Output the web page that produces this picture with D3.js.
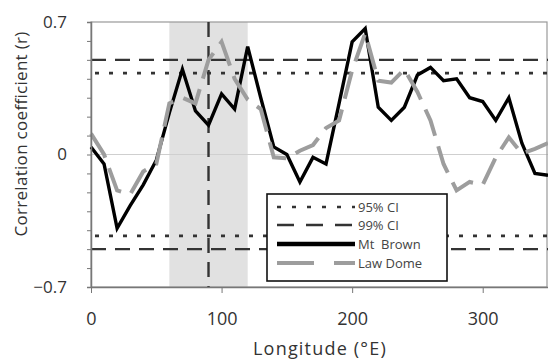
<!DOCTYPE html>
<html>
<head>
<meta charset="utf-8">
<script src="https://cdn.jsdelivr.net/npm/d3@7"></script>
<style>
  body { margin: 0; background: #fff; }
  svg { display: block; font-family: "Open Sans", sans-serif; }
  .axis path, .axis line { stroke: #777; }
  .axis text { fill: #333; font-size: 17px; font-family: "Open Sans", sans-serif; }
</style>
</head>
<body>
<script>
// longitude (deg E), every 10 degrees
var longitudes = [0, 10, 20, 30, 40, 50, 60, 70, 80, 90, 100, 110, 120, 130, 140, 150, 160, 170,
  180, 190, 200, 210, 220, 230, 240, 250, 260, 270, 280, 290, 300, 310, 320, 330, 340, 350];

var mtBrown = [0.04, -0.05, -0.39, -0.27, -0.16, -0.03, 0.22, 0.45, 0.23, 0.155, 0.32, 0.24,
  0.57, 0.30, 0.04, 0.00, -0.145, -0.015, -0.05, 0.27, 0.595, 0.665, 0.25, 0.18,
  0.25, 0.42, 0.46, 0.39, 0.40, 0.30, 0.28, 0.18, 0.30, 0.06, -0.10, -0.11];

var lawDome = [0.11, 0.00, -0.19, -0.21, -0.09, -0.05, 0.27, 0.30, 0.27, 0.50, 0.595, 0.40,
  0.29, 0.24, -0.015, -0.02, 0.02, 0.05, 0.14, 0.18, 0.445, 0.64, 0.39, 0.38,
  0.45, 0.33, 0.18, -0.05, -0.19, -0.145, -0.16, -0.015, 0.09, 0.005, 0.03, 0.06];

var ci95 = 0.43;
var ci99 = 0.50;
var band = [60, 120];
var marker = 90;
var xTicks = [0, 100, 200, 300];
var yLabels = [-0.7, 0, 0.7];

var width = 548, height = 361;
var margin = { top: 22, left: 91, right: 0, bottom: 74 };

var x = d3.scaleLinear()
  .domain([0, 350])
  .range([margin.left, width - margin.right]);

var y = d3.scaleLinear()
  .domain([-0.7, 0.7])
  .range([height - margin.bottom, margin.top]);

var svg = d3.select("body").append("svg")
  .attr("width", width)
  .attr("height", height);

// shaded band
svg.append("rect")
  .attr("x", x(band[0]))
  .attr("y", y(0.7))
  .attr("width", x(band[1]) - x(band[0]))
  .attr("height", y(-0.7) - y(0.7))
  .style("fill", "#e1e1e1");

// zero line
svg.append("line")
  .attr("x1", x(0)).attr("x2", x(350))
  .attr("y1", y(0)).attr("y2", y(0))
  .style("stroke", "#cfcfcf")
  .style("stroke-width", 1);

// frame
svg.append("rect")
  .attr("x", x(0))
  .attr("y", y(0.7))
  .attr("width", x(350) - x(0) - 1)
  .attr("height", y(-0.7) - y(0.7))
  .style("fill", "none")
  .style("stroke", "#999")
  .style("stroke-width", 1.2);

// confidence lines
[ci95, -ci95].forEach(function(v) {
  svg.append("line")
    .attr("x1", x(0) + 4).attr("x2", x(350))
    .attr("y1", y(v)).attr("y2", y(v))
    .style("stroke", "#333")
    .style("stroke-width", 2.6)
    .style("stroke-dasharray", "4,10");
});
[ci99, -ci99].forEach(function(v) {
  svg.append("line")
    .attr("x1", x(0)).attr("x2", x(350))
    .attr("y1", y(v)).attr("y2", y(v))
    .style("stroke", "#333")
    .style("stroke-width", 2.4)
    .style("stroke-dasharray", "15,9");
});

// 90E marker
svg.append("line")
  .attr("x1", x(marker)).attr("x2", x(marker))
  .attr("y1", y(0.7)).attr("y2", y(-0.7))
  .style("stroke", "#333")
  .style("stroke-width", 2.4)
  .style("stroke-dasharray", "15,9");

var line = d3.line()
  .x(function(d, i) { return x(longitudes[i]); })
  .y(function(d) { return y(d); });

svg.append("path")
  .attr("d", line(mtBrown))
  .style("fill", "none")
  .style("stroke", "#000")
  .style("stroke-width", 3.4)
  .style("stroke-linejoin", "miter");

svg.append("path")
  .attr("d", line(lawDome))
  .style("fill", "none")
  .style("stroke", "#9d9d9d")
  .style("stroke-width", 4)
  .style("stroke-dasharray", "28,11");

// axes
var yAxis = d3.axisLeft(y)
  .tickValues(d3.range(-7, 8).map(function(v) { return v / 10; }))
  .tickSize(4)
  .tickPadding(20)
  .tickFormat(function(t) {
    var r = Math.round(t * 10) / 10;
    return yLabels.indexOf(r) >= 0 ? (r === 0 ? "0" : d3.format(".1f")(r)) : "";
  });

svg.append("g")
  .attr("class", "y axis")
  .attr("transform", "translate(" + x(0) + ",0)")
  .call(yAxis)
  .call(function(g) { g.select(".domain").style("stroke-width", 1.5); });

var xAxis = d3.axisBottom(x)
  .tickValues(xTicks)
  .tickSize(6)
  .tickPadding(19)
  .tickSizeOuter(0)
  .tickFormat(d3.format("d"));

svg.append("g")
  .attr("class", "x axis")
  .attr("transform", "translate(0," + y(-0.7) + ")")
  .call(xAxis)
  .call(function(g) {
    g.select(".domain").style("stroke-width", 1.5);
    g.selectAll(".tick text").style("font-size", "18px");
  });

// titles
svg.append("text")
  .attr("transform", "translate(27,134) rotate(-90)")
  .style("text-anchor", "middle")
  .style("font-size", "17px")
  .style("letter-spacing", "0.3px")
  .style("fill", "#333")
  .text("Correlation coefficient (r)");

svg.append("text")
  .attr("x", 320)
  .attr("y", 355)
  .style("text-anchor", "middle")
  .style("font-size", "18px")
  .style("letter-spacing", "1.2px")
  .style("fill", "#333")
  .text("Longitude (°E)");

// legend
var legend = svg.append("g").attr("transform", "translate(267,194)");
legend.append("rect")
  .attr("width", 180)
  .attr("height", 87)
  .style("fill", "#fff")
  .style("stroke", "#111")
  .style("stroke-width", 1.6);

var entries = [
  { label: "95% CI", y: 13, color: "#333", w: 2.6, dash: "4,11" },
  { label: "99% CI", y: 31, color: "#333", w: 2.4, dash: "17,12" },
  { label: "Mt  Brown", y: 50, color: "#000", w: 4.5, dash: null },
  { label: "Law Dome", y: 69, color: "#9d9d9d", w: 4, dash: "37,20" }
];

entries.forEach(function(e) {
  legend.append("line")
    .attr("x1", 10).attr("x2", 88)
    .attr("y1", e.y).attr("y2", e.y)
    .style("stroke", e.color)
    .style("stroke-width", e.w)
    .style("stroke-dasharray", e.dash);
  legend.append("text")
    .attr("x", 91)
    .attr("y", e.y)
    .attr("dy", "0.35em")
    .style("font-size", "13px")
    .style("fill", "#444")
    .style("white-space", "pre")
    .text(e.label);
});
</script>
</body>
</html>
